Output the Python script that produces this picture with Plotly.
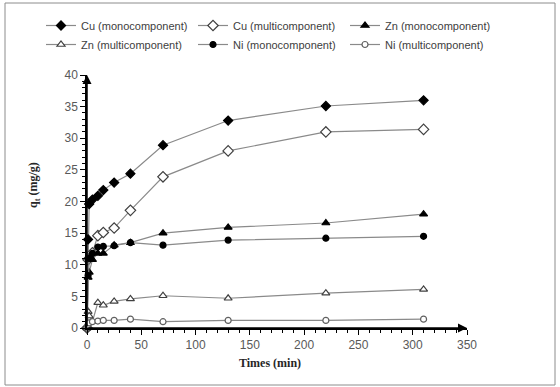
import plotly.graph_objects as go

times = [0, 1, 2, 5, 10, 15, 25, 40, 70, 130, 220, 310]
cu_mono = [0, 14.0, 19.6, 20.3, 20.9, 21.8, 23.0, 24.4, 28.9, 32.8, 35.1, 36.0]
cu_multi = [0, 10.8, 11.0, 11.9, 14.6, 15.1, 15.8, 18.6, 23.9, 28.0, 31.0, 31.4]
zn_mono = [0, 8.0, 8.8, 10.8, 11.8, 11.8, 13.1, 13.5, 15.0, 15.9, 16.6, 18.0]
zn_multi = [0, 2.6, 1.9, 1.0, 4.0, 3.6, 4.2, 4.6, 5.1, 4.7, 5.5, 6.1]
ni_mono = [0, 8.3, 11.0, 11.8, 12.8, 12.9, 13.0, 13.5, 13.1, 13.9, 14.2, 14.5]
ni_multi = [0, 0.5, 0.8, 1.0, 1.1, 1.2, 1.2, 1.4, 1.0, 1.2, 1.2, 1.4]

series = [
    ("Cu (monocomponent)", cu_mono, "diamond", 7, "black", "black"),
    ("Cu (multicomponent)", cu_multi, "diamond", 8, "white", "#404040"),
    ("Zn (monocomponent)", zn_mono, "triangle-up", 7, "black", "black"),
    ("Zn (multicomponent)", zn_multi, "triangle-up", 7, "white", "#404040"),
    ("Ni (monocomponent)", ni_mono, "circle", 6, "black", "black"),
    ("Ni (multicomponent)", ni_multi, "circle", 6, "white", "#606060"),
]

fig = go.Figure()
for name, vals, sym, size, fill, edge in series:
    fig.add_trace(go.Scatter(
        x=times, y=vals, name=name, mode="lines+markers",
        line=dict(color="#8a8a8a", width=1.2),
        marker=dict(symbol=sym, size=size, color=fill, line=dict(color=edge, width=1.2)),
        cliponaxis=False,
    ))

W, H = 560, 387
L, R, T, B = 87, 467, 75, 328


def fx(px):
    return px / W


def fy(py):
    return 1 - py / H


tickfont = dict(family="Liberation Sans", size=12, color="#595959")

fig.update_layout(
    width=W, height=H,
    margin=dict(l=0, r=0, t=0, b=0, pad=0, autoexpand=False),
    paper_bgcolor="white", plot_bgcolor="white",
    font=dict(family="Liberation Sans", size=11, color="#404040"),
    showlegend=True,
    legend=dict(
        orientation="h", x=fx(41), xanchor="left",
        y=fy(11), yanchor="top",
        entrywidth=107, entrywidthmode="pixels",
        font=dict(family="Liberation Sans", size=11, color="#404040"),
        bgcolor="rgba(0,0,0,0)", itemwidth=30,
    ),
    xaxis=dict(
        domain=[fx(L), fx(R)],
        range=[0, 350], dtick=50, tick0=0, showgrid=False, zeroline=False,
        showline=True, linecolor="black", linewidth=1.5,
        ticks="outside", ticklen=5, tickcolor="black", tickwidth=1,
        minor=dict(dtick=10, ticks="outside", ticklen=3, tickcolor="black", tickwidth=1),
        tickfont=tickfont, automargin=False,
    ),
    yaxis=dict(
        domain=[fy(B), fy(T)],
        range=[0, 40], dtick=5, tick0=0, showgrid=False, zeroline=False,
        showline=True, linecolor="black", linewidth=1.5,
        ticks="outside", ticklen=5, tickcolor="black", tickwidth=1,
        minor=dict(dtick=1, ticks="outside", ticklen=3, tickcolor="black", tickwidth=1),
        tickfont=tickfont, automargin=False,
    ),
    annotations=[
        dict(x=350, y=0, ax=0, ay=0, xref="x", yref="y", axref="x", ayref="y",
             text="", showarrow=True, arrowhead=2, arrowsize=1.2, arrowwidth=1.5,
             arrowcolor="black", standoff=0),
        dict(x=0, y=40, ax=0, ay=0, xref="x", yref="y", axref="x", ayref="y",
             text="", showarrow=True, arrowhead=2, arrowsize=1.2, arrowwidth=1.5,
             arrowcolor="black", standoff=0),
        dict(x=fx(270), y=fy(363), xref="paper", yref="paper",
             xanchor="center", yanchor="middle",
             text="<b>Times (min)</b>", showarrow=False,
             font=dict(family="Liberation Serif", size=12, color="#262626")),
        dict(x=fx(34), y=fy(185), xref="paper", yref="paper",
             xanchor="center", yanchor="middle",
             text="<b>q<sub>t</sub> (mg/g)</b>", showarrow=False, textangle=-90,
             font=dict(family="Liberation Serif", size=12, color="#262626")),
    ],
    shapes=[
        dict(type="rect", xref="paper", yref="paper",
             x0=fx(5), x1=fx(555), y0=fy(385), y1=fy(3),
             line=dict(color="#8c8c8c", width=1), fillcolor="rgba(0,0,0,0)", layer="below"),
    ],
)

fig.write_html("out.html", config={"displayModeBar": False},
               post_script="document.body.style.margin='0px';")
